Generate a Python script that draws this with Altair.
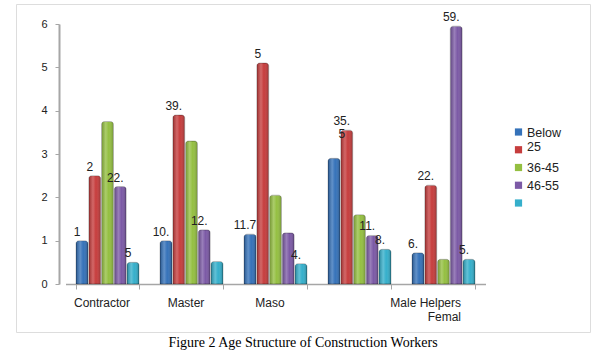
import json
import altair as alt
import pandas as pd

# ---- data ----
categories = ["Contractor", "Master", "Maso", "Helpers", "Female Helpers"]
tick_labels = ["Contractor", "Master", "Maso", "", "Male Helpers\nFemal"]
series = ["Below 25", "26-35", "36-45", "46-55", "56 & above"]
legend_labels = ["Below\n25", "", "36-45", "46-55", ""]
colors = ["#3572b9", "#c63d3d", "#94bf41", "#7c5aa6", "#35afcb"]

below_25 = [1.0, 1.0, 1.15, 2.9, 0.72]
age_26_35 = [2.5, 3.9, 5.1, 3.55, 2.28]
age_36_45 = [3.75, 3.3, 2.05, 1.6, 0.57]
age_46_55 = [2.25, 1.25, 1.18, 1.12, 5.95]
age_56_up = [0.5, 0.52, 0.47, 0.8, 0.57]

lbl_below_25 = ["1", "10.", "11.7", "", "6."]
lbl_26_35 = ["2", "39.", "5", "35.\n5", "22."]
lbl_36_45 = ["", "", "", "", ""]
lbl_46_55 = ["22.", "12.", "", "11.", "59."]
lbl_56_up = ["5", "", "4.", "8.", "5."]

values = [below_25, age_26_35, age_36_45, age_46_55, age_56_up]
labels = [lbl_below_25, lbl_26_35, lbl_36_45, lbl_46_55, lbl_56_up]

rows = []
for s, vals, lbls in zip(series, values, labels):
    for c, v, l in zip(categories, vals, lbls):
        rows.append({"cat": c, "series": s, "value": v, "label": l})
df = pd.DataFrame(rows)
legend_df = pd.DataFrame({"series": series, "label": legend_labels})

FONT = "Liberation Sans"
AXIS_GRAY = "#a6a6a6"

label_map = "{" + ",".join(
    f"{json.dumps(c)}: {json.dumps(t.split(chr(10)))}" for c, t in zip(categories, tick_labels)
) + "}[datum.value]"

x_enc = alt.X(
    "cat:N",
    sort=categories,
    scale=alt.Scale(domain=categories, range=[49.5, 469.5], paddingInner=0.25, paddingOuter=0.125),
    axis=alt.Axis(
        title=None,
        offset=-48,
        labelAngle=0,
        labelExpr=label_map,
        labelAlign={"condition": {"test": "datum.value == 'Female Helpers'", "value": "right"}, "value": "center"},
        labelOffset={"condition": {"test": "datum.value == 'Female Helpers'", "value": 17}, "value": -6},
        labelBaseline="top",
        labelPadding=8,
        labelFontSize=12,
        labelFont=FONT,
        labelColor="#222222",
        labelLineHeight=14,
        tickBand="extent",
        tickOffset=-4,
        tickSize=5,
        tickColor=AXIS_GRAY,
        domainColor=AXIS_GRAY,
        domainWidth=1.5,
        labelOverlap=False,
    ),
)
xoff_enc = alt.XOffset("series:N", sort=series, scale=alt.Scale(domain=series, paddingInner=0.06))
y_enc = alt.Y(
    "value:Q",
    scale=alt.Scale(domain=[0, 6], range=[280, 20], nice=False),
    axis=alt.Axis(
        title=None,
        values=[0, 1, 2, 3, 4, 5, 6],
        offset=-43,
        tickSize=4,
        labelPadding=8,
        labelFontSize=11,
        labelFont=FONT,
        labelColor="#222222",
        tickColor=AXIS_GRAY,
        domainColor=AXIS_GRAY,
        domainWidth=2,
        grid=False,
    ),
)
color_enc = alt.Color("series:N", sort=series, scale=alt.Scale(domain=series, range=colors), legend=None)

base = alt.Chart(df)

bars = base.mark_bar(
    cornerRadiusTopLeft=3, cornerRadiusTopRight=3, stroke="rgba(0,0,0,0.35)", strokeWidth=0.6
).encode(x=x_enc, xOffset=xoff_enc, y=y_enc, color=color_enc)

shade = base.mark_bar(
    cornerRadiusTopLeft=3,
    cornerRadiusTopRight=3,
    fill=alt.LinearGradient(
        gradient="linear", x1=0, x2=1, y1=0, y2=0,
        stops=[
            alt.GradientStop(color="rgba(0,0,0,0.22)", offset=0),
            alt.GradientStop(color="rgba(255,255,255,0.22)", offset=0.35),
            alt.GradientStop(color="rgba(255,255,255,0.0)", offset=0.6),
            alt.GradientStop(color="rgba(0,0,0,0.25)", offset=1),
        ],
    ),
).encode(x=x_enc, xOffset=xoff_enc, y=y_enc)

texts = base.transform_calculate(lines="split(datum.label, '\\n')").mark_text(
    dx=-5, dy=-5, baseline="alphabetic", align="center", fontSize=12, font=FONT,
    color="#222222", lineHeight=13,
).encode(x=x_enc, xOffset=xoff_enc, y=y_enc, text=alt.Text("lines:N"))

main = alt.layer(bars, shade, texts)

ly = alt.Y("series:N", sort=series, scale=alt.Scale(type="point", domain=series, range=[128, 199], padding=0), axis=None)

leg_sq = alt.Chart(legend_df).mark_square(size=52, opacity=1).encode(
    x=alt.value(502.5), y=ly, color=color_enc
)
leg_tx = alt.Chart(legend_df).transform_calculate(lines="split(datum.label, '\\n')").mark_text(
    align="left", baseline="alphabetic", dy=4.5, fontSize=12.5, font=FONT, color="#222222", lineHeight=14
).encode(x=alt.value(511), y=ly, text=alt.Text("lines:N"))

chart = (
    alt.layer(main, leg_sq, leg_tx)
    .resolve_scale(y="independent")
    .properties(
        width=574,
        height=328,
        autosize=alt.AutoSizeParams(type="none"),
        padding={"left": 16, "top": 4, "right": 7, "bottom": 25},
        title=alt.TitleParams(
            "Figure 2 Age Structure of Construction Workers",
            orient="bottom",
            anchor="middle",
            font="Liberation Serif",
            fontSize=14,
            fontWeight="normal",
            color="#000000",
            offset=4,
        ),
    )
    .configure_view(stroke="#a0a0a0", strokeWidth=1.5)
    .configure(font=FONT, background="white")
)

chart.save("out.html", embed_options={"renderer": "svg", "actions": False})
